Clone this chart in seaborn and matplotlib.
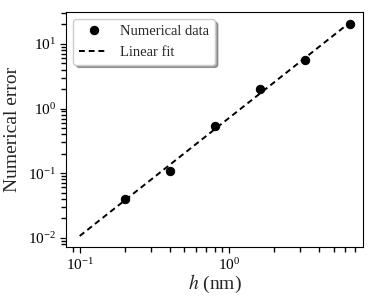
import numpy as np
import pandas as pd
import matplotlib
matplotlib.use("Agg")
import matplotlib.pyplot as plt
import matplotlib.ticker as mticker
import seaborn as sns

h_nm = [0.2, 0.4, 0.8, 1.6, 3.2, 6.4]
num_error = [0.040, 0.107, 0.53, 2.0, 5.7, 20.2]
fit_range = [0.1, 6.4]

sns.set_style("ticks", rc={"xtick.minor.size": 3.5, "ytick.minor.size": 3.5,
                           "xtick.minor.width": 1.0, "ytick.minor.width": 1.0,
                           "xtick.color": "black", "ytick.color": "black",
                           "axes.edgecolor": "black"})
plt.rcParams["font.family"] = ["Liberation Serif", "DejaVu Serif"]
plt.rcParams["mathtext.fontset"] = "stix"

df = pd.DataFrame({"h": h_nm, "err": num_error})

# linear fit in log-log space
slope, icpt = np.polyfit(np.log10(h_nm), np.log10(num_error), 1)
xf = np.array(fit_range)
fit_df = pd.DataFrame({"h": xf, "err": 10 ** (icpt + slope * np.log10(xf))})

fig, ax = plt.subplots(figsize=(3.74, 2.99), dpi=100)
ax.set_xscale("log")
ax.set_yscale("log")
sns.lineplot(data=df, x="h", y="err", ax=ax, marker="o", linestyle="none",
             color="black", markersize=6, markeredgecolor="black", label="Numerical data")
sns.lineplot(data=fit_df, x="h", y="err", ax=ax, color="black", linestyle=(0, (3, 2)),
             linewidth=1.4, label="Linear fit")
for axis in (ax.xaxis, ax.yaxis):
    axis.set_minor_locator(mticker.LogLocator(base=10, subs=np.arange(2, 10), numticks=20))
    axis.set_minor_formatter(mticker.NullFormatter())
ax.set_xlabel("$h$ (nm)", fontsize=14, labelpad=0)
ax.set_ylabel("Numerical error", fontsize=14, labelpad=5)
ax.tick_params(which="major", labelsize=11, length=4, width=0.9)
ax.tick_params(which="minor", length=3.5, width=1.0, left=True, bottom=True)
ax.legend(loc="upper left", fontsize=10.5, shadow=True, fancybox=True, framealpha=1,
          edgecolor="0.8")
fig.subplots_adjust(left=0.177, right=0.971, top=0.96, bottom=0.175)
fig.savefig("out.png", dpi=100)
